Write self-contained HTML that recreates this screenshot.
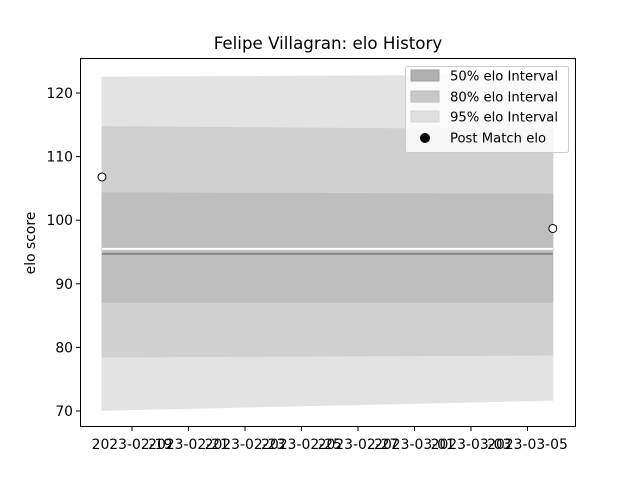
<!DOCTYPE html>
<html><head><meta charset="utf-8"><style>
body{margin:0;background:#fff;}
svg{font-family:"DejaVu Sans","Liberation Sans",sans-serif;}
</style></head><body>
<svg id="chart" width="640" height="480" viewBox="0 0 640 480" xmlns="http://www.w3.org/2000/svg">
<rect width="640" height="480" fill="#fff"/>
<text x="328" y="49" text-anchor="middle" font-size="16.7">Felipe Villagran: elo History</text>
<g id="plot"></g>
<rect x="80.5" y="58.5" width="495" height="368" fill="none" stroke="#000" stroke-width="1"/>
<g id="xticks"></g><g id="yticks"></g>
<text transform="translate(35,243) rotate(-90)" text-anchor="middle" font-size="13.9">elo score</text>
<g>
<rect x="405.5" y="66.5" width="163" height="86" rx="2" fill="#fff" fill-opacity="0.8" stroke="#ccc"/>
<rect x="411" y="70" width="28" height="11" fill="#b0b0b0" stroke="#a0a0a0"/>
<text x="450" y="80.5" font-size="13.2">50% elo Interval</text>
<rect x="411" y="91" width="28" height="11" fill="#c8c8c8" stroke="#bbb"/>
<text x="450" y="101.5" font-size="13.2">80% elo Interval</text>
<rect x="411" y="111" width="28" height="11" fill="#e0e0e0" stroke="#d5d5d5"/>
<text x="450" y="121.5" font-size="13.2">95% elo Interval</text>
<circle cx="425" cy="138" r="5" fill="#000"/>
<text x="450" y="142.5" font-size="13.2">Post Match elo</text>
</g>
</svg>
<script>
const dates = ["2023-02-17T22:30", "2023-03-05T21:30"];
const postElo = [106.8, 98.7];
const lo95 = [70.1, 71.7], hi95 = [122.5, 122.8];
const lo80 = [78.5, 78.8], hi80 = [114.7, 114.2];
const lo50 = [87.1, 87.1], hi50 = [104.3, 104.1];
const meanLine = [94.7, 94.7];
const whiteLine = [95.5, 95.5];
const yTicks = [70, 80, 90, 100, 110, 120];
const xTickLabels = ["2023-02-19","2023-02-21","2023-02-23","2023-02-25","2023-02-27","2023-03-01","2023-03-03","2023-03-05"];

const NS = "http://www.w3.org/2000/svg";
const t0 = Date.parse("2023-02-19T00:00Z");
const DAY = 86400000;
function x(d){ return 132 + (Date.parse(d + (d.length > 10 ? ":00Z" : "T00:00Z")) - t0) / DAY * 28.25; }
function y(v){ return 411 - (v - 70) * 6.36; }
function mk(tag, attrs, parent){ const e = document.createElementNS(NS, tag); for (const k in attrs) e.setAttribute(k, attrs[k]); parent.appendChild(e); return e; }
const plot = document.getElementById("plot");
function band(lo, hi, fill, name){
  const pts = dates.map((d,i)=>x(d)+","+y(hi[i])).concat(dates.slice().reverse().map((d,j)=>{const i=dates.length-1-j;return x(d)+","+y(lo[i]);}));
  const p = mk("polygon", {points: pts.join(" "), fill: fill, stroke: fill, "stroke-width": 1}, plot);
  
  
}
band(lo95, hi95, "#e3e3e3", "band-95");
band(lo80, hi80, "#d0d0d0", "band-80");
band(lo50, hi50, "#bebebe", "band-50");
function line(vals, stroke, w, name){
  const l = mk("polyline", {points: dates.map((d,i)=>x(d)+","+y(vals[i])).join(" "), fill:"none", stroke: stroke, "stroke-width": w}, plot);
  
  
}
line(whiteLine, "#fff", 2, "white-line");
line(meanLine, "#888", 2, "mean-elo-line");
postElo.forEach((v,i)=>{
  const c = mk("circle", {cx: x(dates[i]), cy: y(v), r: 4, fill: "#fff", stroke: "#000", "stroke-width": 1}, plot);
  
  
});
const yt = document.getElementById("yticks");
yTicks.forEach(v=>{
  const l = mk("line", {x1: 76, x2: 80, y1: y(v), y2: y(v), stroke: "#000"}, yt);
  
  
  const t = mk("text", {x: 73, y: y(v)+5, "text-anchor": "end", "font-size": 13.9}, yt);
  t.textContent = v;
  
  
});
const xt = document.getElementById("xticks");
xTickLabels.forEach(d=>{
  const px = x(d);
  const l = mk("line", {x1: px, x2: px, y1: 427, y2: 431, stroke: "#000"}, xt);
  
  
  const t = mk("text", {x: px, y: 449, "text-anchor": "middle", "font-size": 13.9}, xt);
  t.textContent = d;
  
  
});
</script>
</body></html>
